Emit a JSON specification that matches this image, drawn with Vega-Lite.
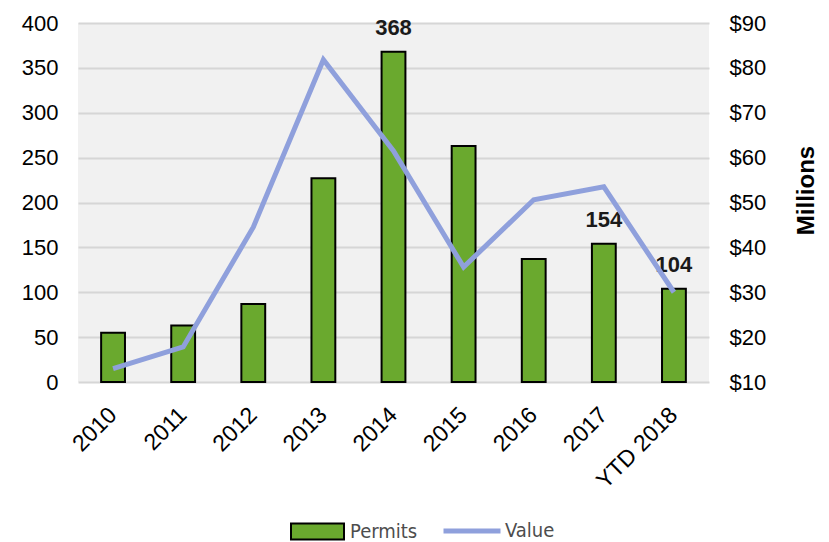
{
  "$schema": "https://vega.github.io/schema/vega-lite/v6.json",
  "width": 631,
  "height": 359,
  "autosize": "none",
  "padding": {"left": 78, "top": 23, "right": 120, "bottom": 160},
  "background": "white",
  "config": {
    "view": {"fill": "#f1f1f1", "stroke": null},
    "font": "Liberation Sans",
    "axis": {"labelFont": "Liberation Sans", "labelColor": "#000000", "labelFontSize": 22, "domain": false, "ticks": false}
  },
  "data": {
    "values": [
      {"year": "2010", "permits": 55, "value": 13, "label": null},
      {"year": "2011", "permits": 63, "value": 17.8, "label": null},
      {"year": "2012", "permits": 87, "value": 44.5, "label": null},
      {"year": "2013", "permits": 227, "value": 81.8, "label": null},
      {"year": "2014", "permits": 368, "value": 61.5, "label": 368},
      {"year": "2015", "permits": 263, "value": 35.6, "label": null},
      {"year": "2016", "permits": 137, "value": 50.6, "label": null},
      {"year": "2017", "permits": 154, "value": 53.5, "label": 154},
      {"year": "YTD 2018", "permits": 104, "value": 30, "label": 104}
    ]
  },
  "encoding": {
    "x": {
      "field": "year",
      "type": "nominal",
      "sort": null,
      "scale": {"paddingInner": 0.66, "paddingOuter": 0.33},
      "axis": {"title": null, "labelAngle": -45, "labelAlign": "right", "labelBaseline": "middle", "labelPadding": 29, "labelFontSize": 23, "grid": false}
    }
  },
  "layer": [
    {
      "mark": {"type": "bar", "stroke": "#000000", "strokeWidth": 2},
      "encoding": {
        "y": {
          "field": "permits",
          "type": "quantitative",
          "scale": {"domain": [0, 400], "nice": false},
          "axis": {"title": null, "values": [0, 50, 100, 150, 200, 250, 300, 350, 400], "labelPadding": 20, "grid": true, "gridColor": "#d6d6d6", "gridWidth": 2}
        },
        "fill": {
          "datum": "Permits",
          "type": "nominal",
          "scale": {"domain": ["Permits"], "range": ["#6aa92e"]},
          "legend": {
            "orient": "none",
            "legendX": 212,
            "legendY": 481,
            "title": null,
            "labelFont": "DejaVu Sans Condensed",
            "labelFontSize": 20,
            "labelColor": "#4d4d4d",
            "symbolType": "M-1,-0.3H1V0.3H-1Z",
            "symbolSize": 2809,
            "symbolStrokeColor": "#000000",
            "symbolStrokeWidth": 2,
            "labelOffset": 5
          }
        }
      }
    },
    {
      "transform": [{"filter": "datum.label != null"}],
      "mark": {"type": "text", "fontWeight": "bold", "fontSize": 22, "baseline": "alphabetic", "dy": -17, "color": "#1a1a1a"},
      "encoding": {
        "y": {"field": "permits", "type": "quantitative", "scale": {"domain": [0, 400], "nice": false}, "axis": null},
        "text": {"field": "label", "type": "quantitative"}
      }
    },
    {
      "mark": {"type": "line", "strokeWidth": 5, "strokeJoin": "miter"},
      "encoding": {
        "y": {
          "field": "value",
          "type": "quantitative",
          "scale": {"domain": [10, 90], "nice": false, "zero": false},
          "axis": {"orient": "right", "values": [10, 20, 30, 40, 50, 60, 70, 80, 90], "labelExpr": "'$' + datum.value", "grid": false, "labelPadding": 20, "title": "Millions", "titleAngle": 270, "titleFontSize": 24, "titleFontWeight": "bold", "titleColor": "#000000", "titlePadding": 53, "titleY": 167}
        },
        "stroke": {
          "datum": "Value",
          "type": "nominal",
          "scale": {"domain": ["Value"], "range": ["#8fa0dc"]},
          "legend": {
            "orient": "none",
            "legendX": 363,
            "legendY": 477,
            "title": null,
            "labelFont": "DejaVu Sans Condensed",
            "labelFontSize": 20,
            "labelColor": "#4d4d4d",
            "symbolType": "stroke",
            "symbolSize": 3249,
            "symbolStrokeWidth": 5,
            "labelOffset": 2
          }
        }
      }
    }
  ],
  "resolve": {"scale": {"y": "independent"}}
}
